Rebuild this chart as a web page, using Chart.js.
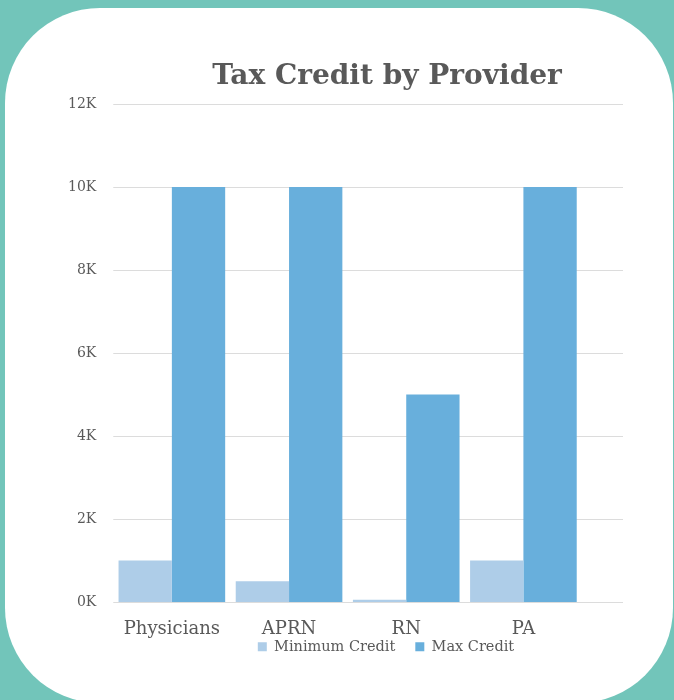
<!DOCTYPE html>
<html>
<head>
<meta charset="utf-8">
<script src="https://cdn.jsdelivr.net/npm/chart.js@4"></script>
<style>
  html, body { margin: 0; padding: 0; width: 674px; height: 700px; overflow: hidden; background: #72c5ba; }
  #card { position: absolute; left: 5px; top: 8px; width: 668px; height: 695px; background: #ffffff; border-radius: 95px; }
  #c { position: absolute; left: 0; top: 0; }
</style>
</head>
<body>
<div id="card"></div>
<canvas id="c" width="674" height="720"></canvas>
<script>
const categories = ['Physicians', 'APRN', 'RN', 'PA'];
const minimumCredit = [1000, 500, 50, 1000];
const maxCredit = [10000, 10000, 5000, 10000];
const yTickLabels = ['0K', '2K', '4K', '6K', '8K', '10K', '12K'];

const TEXT = '#595959';
const GRID = '#dcdcdc';
const GRID_EXTEND = 41;      // horizontal grid lines run past the last category
const TITLE_CENTER = 387;    // title is centred on the card, not the plot
const LEGEND_CENTER = 386;
const LEGEND_RAISE = 38;     // legend sits tight under the category labels

const gridExtend = {
  id: 'gridExtend',
  beforeDatasetsDraw(chart) {
    const { ctx, chartArea, scales } = chart;
    const y = scales.y;
    ctx.save();
    ctx.strokeStyle = GRID;
    ctx.lineWidth = 1;
    y.ticks.forEach(t => {
      const py = Math.round(y.getPixelForValue(t.value)) + 0.5;
      ctx.beginPath();
      ctx.moveTo(chartArea.left, py);
      ctx.lineTo(chartArea.right + GRID_EXTEND, py);
      ctx.stroke();
    });
    ctx.restore();
  }
};

const boxShift = {
  id: 'boxShift',
  afterLayout(chart) {
    const t = chart.titleBlock;
    if (t) {
      const dx = TITLE_CENTER - (t.left + t.right) / 2;
      t.left += dx; t.right += dx;
    }
    const l = chart.legend;
    if (l) {
      const dx = LEGEND_CENTER - (l.left + l.right) / 2;
      l.left += dx; l.right += dx;
      l.top -= LEGEND_RAISE; l.bottom -= LEGEND_RAISE;
    }
  }
};

new Chart(document.getElementById('c'), {
  type: 'bar',
  data: {
    labels: categories,
    datasets: [
      { label: 'Minimum Credit', data: minimumCredit, backgroundColor: '#aecde8', borderWidth: 0 },
      { label: 'Max Credit', data: maxCredit, backgroundColor: '#68afdc', borderWidth: 0 }
    ]
  },
  options: {
    responsive: false,
    animation: false,
    devicePixelRatio: 1,
    layout: { padding: { left: 51, right: 92, top: 0, bottom: 18 } },
    datasets: { bar: { categoryPercentage: 0.91, barPercentage: 1.0 } },
    plugins: {
      title: {
        display: true,
        text: 'Tax Credit by Provider',
        color: TEXT,
        font: { family: 'DejaVu Serif', size: 28, weight: 'bold', lineHeight: 1.2 },
        padding: { top: 59.7, bottom: 10.7 }
      },
      legend: {
        position: 'bottom',
        labels: {
          color: TEXT,
          font: { family: 'DejaVu Serif', size: 14.5 },
          boxWidth: 9,
          boxHeight: 9,
          padding: 20
        }
      },
      tooltip: { enabled: false }
    },
    scales: {
      x: {
        grid: { display: false, drawTicks: false },
        border: { display: false },
        ticks: { color: TEXT, font: { family: 'DejaVu Serif', size: 18 }, padding: 17, maxRotation: 0, autoSkip: false }
      },
      y: {
        min: 0,
        max: 12000,
        grid: { display: false, drawTicks: false },
        border: { display: false },
        ticks: {
          stepSize: 2000,
          color: TEXT,
          padding: 17,
          font: { family: 'DejaVu Serif', size: 14 },
          callback: (v) => yTickLabels[Math.round(v / 2000)]
        }
      }
    }
  },
  plugins: [gridExtend, boxShift]
});
</script>
</body>
</html>
